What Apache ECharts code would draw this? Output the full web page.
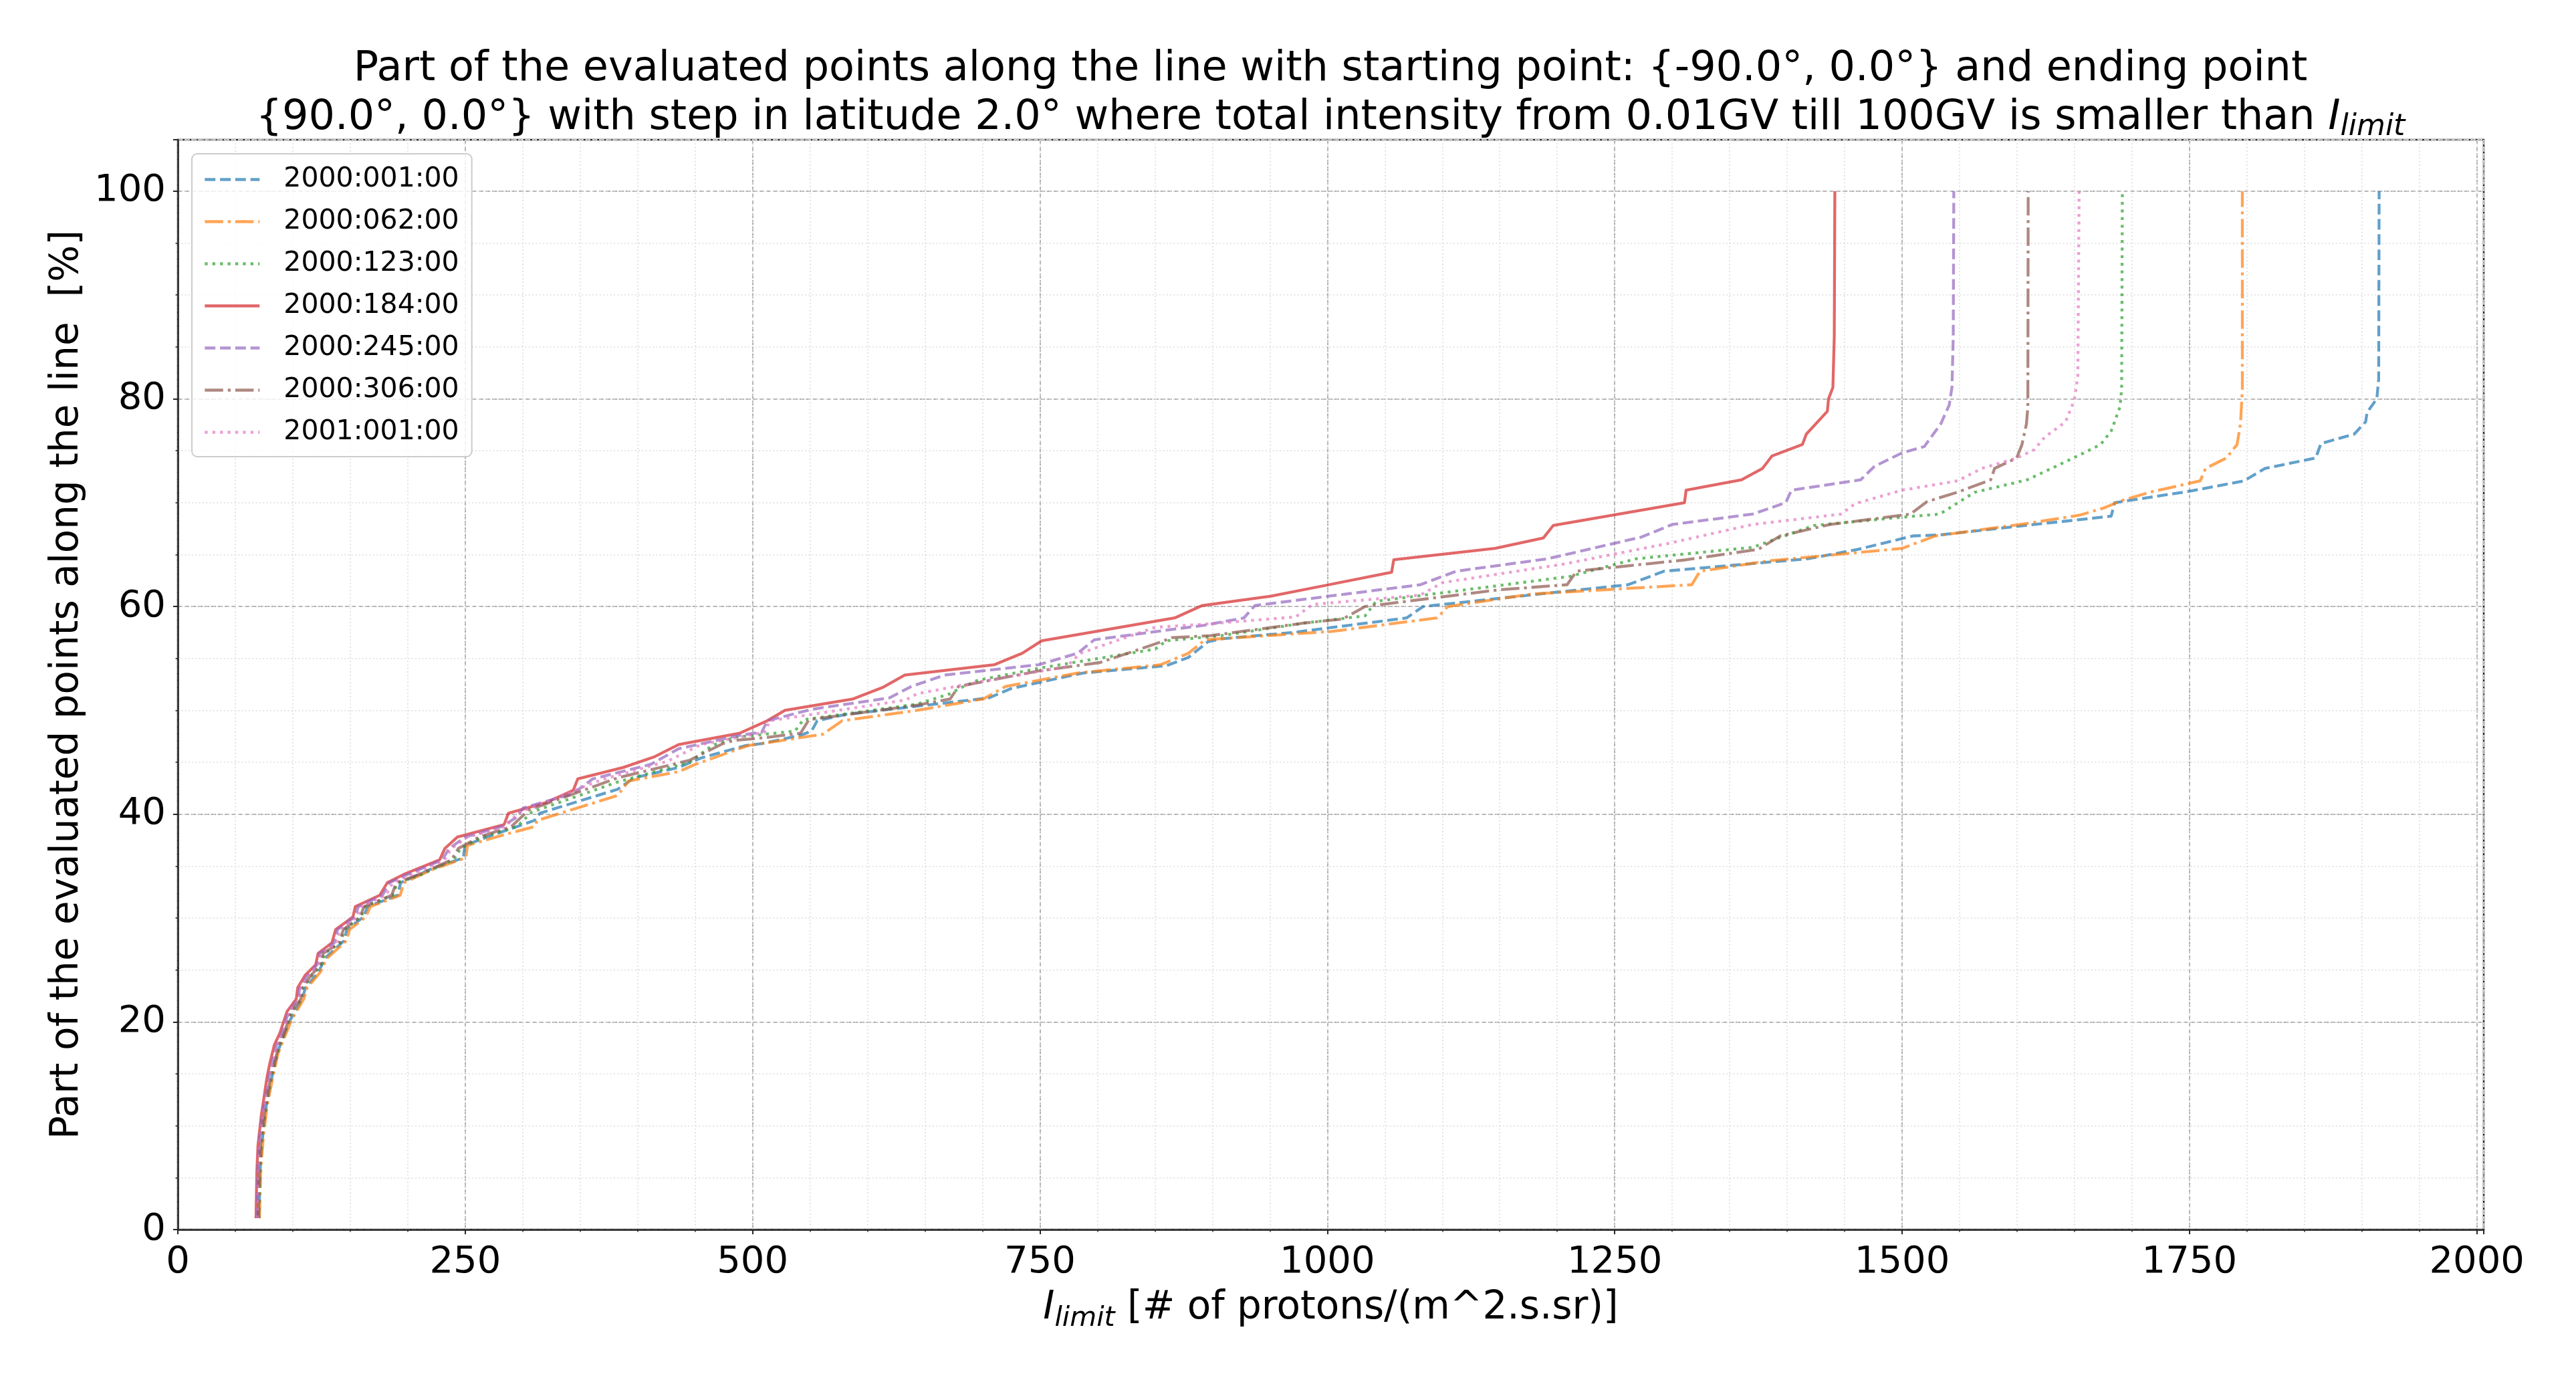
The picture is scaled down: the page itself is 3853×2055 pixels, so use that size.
<!DOCTYPE html>
<html>
<head>
<meta charset="utf-8">
<script src="https://cdn.jsdelivr.net/npm/echarts@6/dist/echarts.min.js"></script>
<style>
html,body{margin:0;padding:0;background:#fff;}
#chart{width:3853px;height:2055px;}
</style>
</head>
<body>
<div id="chart"></div>
<script>
// ---- data ----
const seriesNames = ['2000:001:00','2000:062:00','2000:123:00','2000:184:00','2000:245:00','2000:306:00','2001:001:00'];

const s2000_001 = [[70.5,1.1],[71.8,6.1],[73.9,9.1],[77,12.0],[81.7,14.6],[86.1,16.9],[91.3,18.4],[97.8,20.2],[108.2,22.2],[111,23.3],[122.5,24.8],[127.7,26.1],[144.5,27.8],[147.1,28.9],[161.4,30.1],[165.3,31.1],[191.3,32.2],[193.8,33.4],[219.9,34.7],[248.4,35.8],[249.7,37.0],[276.5,38.1],[310.3,39.4],[315,40.1],[382.6,42.4],[397,43.5],[435.6,44.5],[454.9,45.4],[493.5,46.6],[508,46.8],[541.7,47.6],[551.3,48.0],[556.2,49.0],[580.3,49.6],[643,50.4],[705.6,51.2],[724.9,52.1],[753.9,52.8],[787.6,53.6],[860,54.3],[879.2,55.1],[896.1,56.6],[908.2,56.9],[970.1,57.5],[1068.9,58.9],[1083.3,60.0],[1201.3,61.4],[1261.6,62.1],[1292.9,63.4],[1418.1,64.6],[1461.5,65.5],[1509.6,66.8],[1532.8,66.9],[1648.4,68.3],[1681.9,68.7],[1684.9,70.0],[1750,71.1],[1797.5,72.1],[1815.7,73.3],[1859.8,74.3],[1864.4,75.7],[1893.3,76.6],[1903.3,77.8],[1904.5,78.7],[1913,80.0],[1914.6,81.9],[1915,100]];

const s2000_062 = [[71,1.1],[72.3,6.1],[74.5,9.1],[77.8,12.0],[82.5,14.6],[87,16.9],[92.3,18.4],[99,20.2],[109.5,22.2],[112.5,23.3],[124,24.8],[129.5,26.1],[146.5,27.8],[149.5,28.9],[163.5,30.1],[167.5,31.1],[193.5,32.2],[196.5,33.4],[222,34.7],[250.5,35.8],[252,37.0],[286.2,38.1],[310.3,38.8],[312.7,39.4],[382.6,41.8],[392.2,43.2],[435.6,44.1],[450.1,44.8],[495.9,46.6],[561,47.7],[577.9,49.0],[643,50.0],[700.8,51.1],[720.1,52.3],[782.8,53.6],[855.1,54.4],[879.2,55.5],[893.7,56.8],[1003.9,57.6],[1095.4,58.9],[1105,60.0],[1177.3,61.2],[1317,62.1],[1324.2,63.4],[1384.4,64.4],[1500,65.6],[1528.9,66.8],[1608.8,68.0],[1654.5,68.8],[1675.8,69.5],[1691,70.2],[1715.3,71.0],[1759.4,72.1],[1764,73.3],[1782.2,74.3],[1791.4,75.6],[1794.4,77.6],[1796,80.9],[1796,100]];

const s2000_123 = [[70.5,1.1],[71.2,5.5],[72.5,8.1],[74,9.7],[75.5,11],[77.5,12.3],[79,13.3],[81,14.6],[84.5,16],[88.5,17.8],[93,18.9],[99,21],[107.5,22.2],[109,23.3],[117,24.5],[125,25.5],[127.5,26.6],[141.5,27.6],[145,28.9],[159.5,30.1],[163,31.1],[187,32.2],[191,33.4],[212,34.2],[240,35.6],[246,36.7],[265,37.8],[295,38.8],[300.6,39.4],[307.9,40.2],[382.6,43.1],[445.3,45.0],[464.6,46.6],[483.8,47.4],[536.9,48.0],[544.1,49.1],[643,50.6],[671.9,51.6],[681.5,52.2],[696,52.9],[751.4,54.1],[850.3,55.9],[859.9,56.7],[908.2,57.2],[979.5,58.4],[1032.8,59.1],[1042.4,60.5],[1211,62.9],[1268.8,64.6],[1370,65.7],[1423,67.8],[1500,68.6],[1532.8,68.9],[1553,70.3],[1563.2,71.0],[1608.8,72.2],[1630,73.3],[1654.5,74.6],[1672.7,75.6],[1681.9,76.9],[1689.5,79.2],[1691,80.9],[1691.6,100]];

const s2000_184 = [[68,1.1],[68.7,5.5],[69.7,8.1],[71.3,9.7],[72.6,11],[74.4,12.3],[75.7,13.3],[77.5,14.6],[80,16],[84,17.8],[88.7,18.9],[95,21],[103,22.2],[104.3,23.3],[110.8,24.5],[119.9,25.5],[122,26.6],[134,27.6],[137.3,28.9],[152.3,30.1],[154.4,31.1],[175.7,32.2],[182.2,33.4],[196.5,34.2],[227.7,35.6],[232.3,36.7],[243.2,37.8],[283.8,39.0],[287.6,40.1],[319.9,41.1],[344,42.3],[347.9,43.4],[387.4,44.5],[414,45.5],[435.6,46.7],[488.7,47.8],[512.8,49.0],[528.2,50.0],[587.5,51.1],[613,52.2],[632.4,53.4],[710.5,54.4],[734.6,55.5],[751.5,56.7],[867.2,58.9],[891.3,60.1],[950.9,61.0],[1001.4,62.1],[1055.9,63.3],[1057.8,64.5],[1146,65.6],[1187.9,66.6],[1196.5,67.8],[1310.7,70.0],[1312.1,71.2],[1360.3,72.2],[1378.6,73.3],[1386.8,74.5],[1413.3,75.6],[1416.7,76.6],[1435,78.8],[1436,80.0],[1439.8,81.1],[1441,86],[1441.5,100]];

const s2000_245 = [[69,1.1],[69.5,5.5],[70.5,8.1],[72,9.7],[73.5,11],[75.5,12.3],[77,13.3],[79,14.6],[82,16],[86,17.8],[90.5,18.9],[96.5,21],[104.5,22.2],[106,23.3],[113,24.5],[121,25.5],[123.5,26.6],[136,27.6],[139,28.9],[154,30.1],[157,31.1],[178,32.2],[184,33.4],[200,34.2],[230,35.6],[236,36.7],[250,37.8],[281.3,38.8],[293.4,39.6],[300.6,40.6],[344,42.0],[360.9,43.4],[411.5,44.8],[435.6,46.3],[488.7,47.6],[508,47.9],[512.8,49.0],[551.3,50.1],[618.9,51.2],[638.1,52.3],[667.1,53.4],[749,54.4],[782.8,55.5],[797.3,56.8],[893,58.2],[927.4,58.9],[937.1,60.1],[1080.9,62.1],[1112.2,63.4],[1191.7,64.6],[1273.6,66.7],[1300,67.9],[1370,68.9],[1398.8,70.0],[1403.7,71.2],[1463.9,72.2],[1476,73.5],[1500,74.8],[1519.3,75.4],[1533.7,77.6],[1541,79.4],[1543.4,81.1],[1544.5,86],[1545,100]];

const s2000_306 = [[70,1.1],[70.8,5.5],[72,8.1],[73.5,9.7],[75,11],[77,12.3],[78.5,13.3],[80.5,14.6],[84,16],[88,17.8],[92.5,18.9],[98.5,21],[107,22.2],[108.5,23.3],[116,24.5],[124,25.5],[126.5,26.6],[140.5,27.6],[144,28.9],[158.5,30.1],[162,31.1],[186,32.2],[190,33.4],[210,34.2],[238,35.6],[244,36.7],[262,37.8],[290,38.8],[305.4,40.4],[382.6,43.5],[445.3,45.2],[474.2,46.8],[483.8,47.1],[512.8,47.4],[541.7,47.8],[549,49.1],[643,50.5],[671.9,51.1],[679.1,52.3],[749,53.8],[802.1,54.6],[850.3,56.4],[864.8,57.0],[898.5,57.2],[979.5,58.4],[1013.5,58.8],[1032.8,60.0],[1148.4,61.6],[1208.6,62.1],[1216.8,63.4],[1312.1,64.5],[1374.8,65.5],[1394,66.8],[1437.4,67.9],[1507.2,68.9],[1521.7,70.1],[1548,71.0],[1577.1,72.2],[1580.5,73.3],[1599.7,74.3],[1604.3,75.6],[1608.2,77.6],[1609.4,79.2],[1609.7,100]];

const s2001_001 = [[69.5,1.1],[70,5.5],[71,8.1],[72.5,9.7],[74,11],[76,12.3],[77.5,13.3],[79.5,14.6],[82.5,16],[86.5,17.8],[91,18.9],[97,21],[105.5,22.2],[107,23.3],[114,24.5],[122,25.5],[124.5,26.6],[138,27.6],[141,28.9],[156,30.1],[159,31.1],[181,32.2],[187,33.4],[204,34.2],[232,35.6],[238,36.7],[252,37.8],[285,38.8],[295.8,40.1],[368.1,43.3],[426,45.1],[454.9,46.7],[510.4,47.9],[515.2,49.0],[633.3,51.0],[643,51.6],[705.6,52.9],[773,54.2],[785,55.5],[850.3,58.0],[893,58.3],[972.5,59.0],[987,60.2],[1080.9,61.1],[1100.2,62.3],[1206.2,64.1],[1297.7,66.1],[1370,67.9],[1447,68.9],[1459,69.9],[1500,71.2],[1548.2,72.1],[1569.3,73.3],[1599.7,74.3],[1614.9,75.1],[1624,76.3],[1642.3,77.8],[1649.9,79.9],[1652.9,82.2],[1654,100]];

const seriesData = [s2000_001, s2000_062, s2000_123, s2000_184, s2000_245, s2000_306, s2001_001];

// ---- styles ----
const LW = 4.3;
const colors = ['rgba(31,119,180,0.7)','rgba(255,127,14,0.7)','rgba(44,160,44,0.7)','rgba(214,39,40,0.7)','rgba(148,103,189,0.7)','rgba(140,86,75,0.7)','rgba(227,119,194,0.7)'];
const dashed = [3.7*LW, 1.6*LW], dashdot = [6.4*LW, 1.6*LW, 1*LW, 1.6*LW], dotted = [1*LW, 1.65*LW];
const dashes = [dashed, dashdot, dotted, 'solid', dashed, dashdot, dotted];

const FONT = 'DejaVu Sans';
const chart = echarts.init(document.getElementById('chart'), null, {renderer: 'canvas'});

const majorGrid = {show: true, lineStyle: {color: '#b0b0b0', width: 2, type: [7, 3]}};
const minorGrid = {show: true, lineStyle: {color: '#dcdcdc', width: 1.6, type: [2, 3.3]}};

const option = {
  animation: false,
  backgroundColor: '#ffffff',
  title: {
    left: 1990, top: 67, padding: 0, textAlign: 'center',
    text: 'Part of the evaluated points along the line with starting point: {-90.0°, 0.0°} and ending point\n{90.0°, 0.0°} with step in latitude 2.0° where total intensity from 0.01GV till 100GV is smaller than {i|I}{s|limit}',
    textStyle: {
      fontFamily: FONT, fontSize: 62, fontWeight: 'normal', color: '#000', lineHeight: 73,
      rich: {
        i: {fontFamily: FONT, fontSize: 62, fontStyle: 'italic', color: '#000', lineHeight: 73},
        s: {fontFamily: FONT, fontSize: 44, fontStyle: 'italic', color: '#000', lineHeight: 34, verticalAlign: 'bottom'}
      }
    }
  },
  grid: {left: 266, right: 138, top: 209, bottom: 216, show: true, borderColor: '#262626', borderWidth: 2.5, backgroundColor: 'transparent', containLabel: false},
  legend: {
    show: true, orient: 'vertical', left: 287, top: 230,
    padding: [18, 19, 16, 17], itemWidth: 82, itemHeight: 20, itemGap: 22,
    backgroundColor: 'rgba(255,255,255,0.8)', borderColor: '#cccccc', borderWidth: 2, borderRadius: 8,
    textStyle: {fontFamily: FONT, fontSize: 41, color: '#000', padding: [0, 0, 0, 31]},
    lineStyle: {width: 4.6},
    itemStyle: {color: 'rgba(0,0,0,0)', borderWidth: 0, opacity: 0},
    data: seriesNames
  },
  xAxis: [
    {
      type: 'value', min: 0, max: 2006, interval: 250, gridIndex: 0, position: 'bottom',
      name: '{i|I}{s|limit} [# of protons/(m^2.s.sr)]', nameLocation: 'middle', nameGap: 74,
      nameTextStyle: {fontFamily: FONT, fontSize: 58, color: '#000', lineHeight: 72,
        rich: {
          i: {fontFamily: FONT, fontSize: 58, fontStyle: 'italic', color: '#000', lineHeight: 72},
          s: {fontFamily: FONT, fontSize: 41, fontStyle: 'italic', color: '#000', lineHeight: 34, verticalAlign: 'bottom'}
        }},
      axisLine: {show: true, onZero: false, lineStyle: {color: '#262626', width: 2.5}},
      axisTick: {show: true, length: 7, lineStyle: {color: '#262626', width: 2}},
      axisLabel: {show: true, fontFamily: FONT, fontSize: 56, color: '#000', margin: 21,
        formatter: v => (Math.abs(v % 250) < 1e-6 ? String(v) : '')},
      splitLine: majorGrid
    },
    {
      type: 'value', min: 0, max: 2006, interval: 50, gridIndex: 0, position: 'bottom',
      axisLine: {show: false}, axisLabel: {show: false},
      axisTick: {show: true, length: 3.5, lineStyle: {color: '#262626', width: 1.5}},
      splitLine: minorGrid
    }
  ],
  yAxis: [
    {
      type: 'value', min: 0, max: 104.95, interval: 20, gridIndex: 0, position: 'left',
      name: 'Part of the evaluated points along the line  [%]', nameLocation: 'middle', nameGap: 132,
      nameTextStyle: {fontFamily: FONT, fontSize: 58, color: '#000'},
      axisLine: {show: true, onZero: false, lineStyle: {color: '#262626', width: 2.5}},
      axisTick: {show: true, length: 7, lineStyle: {color: '#262626', width: 2}},
      axisLabel: {show: true, fontFamily: FONT, fontSize: 56, color: '#000', margin: 18,
        formatter: v => (Math.abs(v % 20) < 1e-6 ? String(v) : '')},
      splitLine: majorGrid
    },
    {
      type: 'value', min: 0, max: 104.95, interval: 5, gridIndex: 0, position: 'left',
      axisLine: {show: false}, axisLabel: {show: false},
      axisTick: {show: true, length: 3.5, lineStyle: {color: '#262626', width: 1.5}},
      splitLine: minorGrid
    }
  ],
  series: seriesNames.map((name, i) => ({
    name: name, type: 'line', xAxisIndex: 0, yAxisIndex: 0,
    data: seriesData[i], showSymbol: false, symbol: 'none', smooth: false,
    color: colors[i],
    lineStyle: {color: colors[i], width: LW, type: dashes[i], cap: 'butt', join: 'round'},
    emphasis: {disabled: true}, z: 3 + i
  }))
};
chart.setOption(option);
</script>
</body>
</html>
